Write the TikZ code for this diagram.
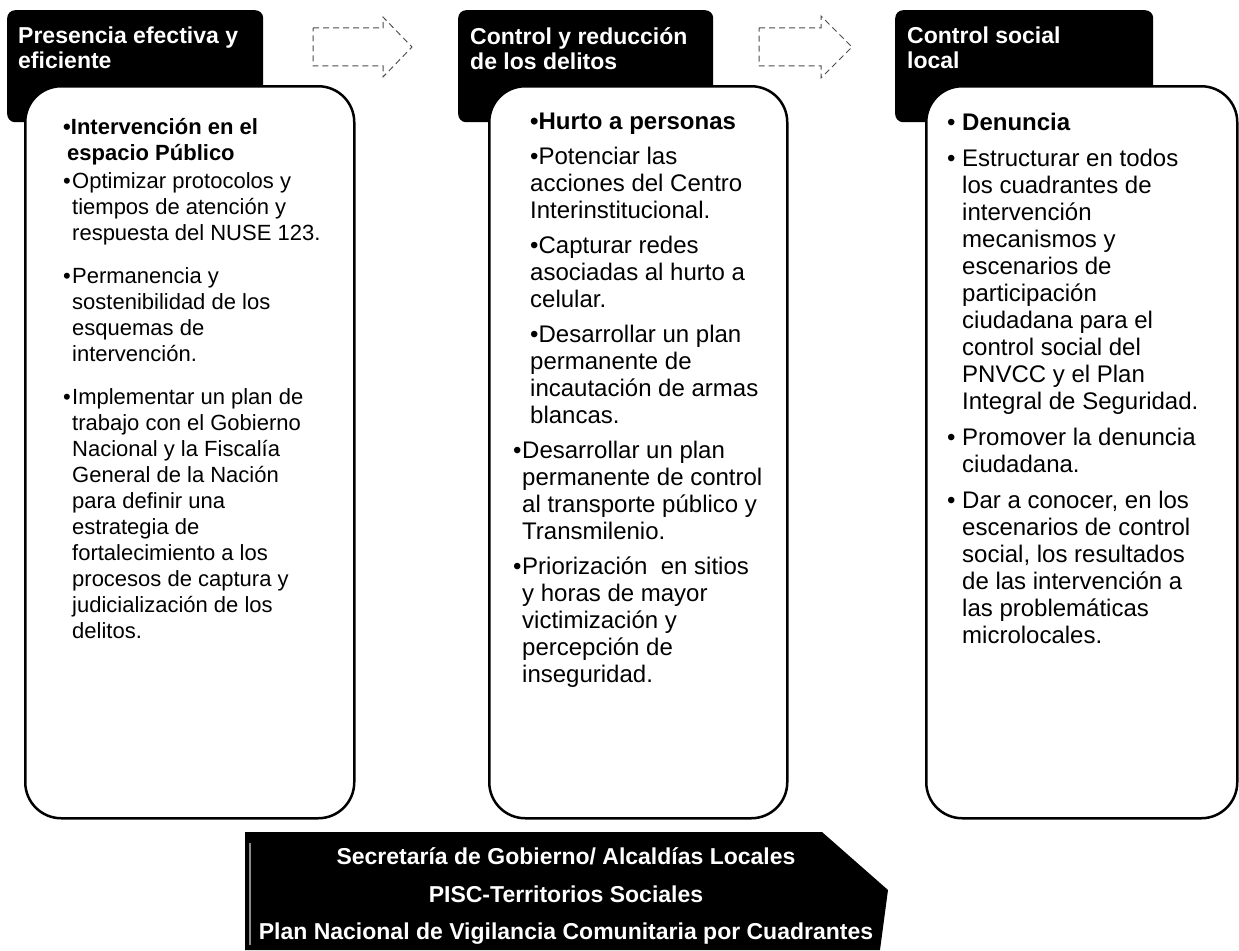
\documentclass[tikz,border=0pt]{standalone}
\usepackage{fontspec}
\setmainfont{Liberation Sans}
\usetikzlibrary{positioning}

% bullets and hanging lines
\newcommand{\bul}{\makebox[9pt][l]{•}}
\newcommand{\hang}{\hspace*{9pt}}
\newcommand{\bulw}{\makebox[15pt][l]{•}}
\newcommand{\hangw}{\hspace*{15pt}}
\newcommand{\ind}{\hspace*{17pt}}

\tikzset{
  header/.style={fill=black, rounded corners=8pt, minimum height=112pt, anchor=north west, inner sep=0pt},
  headtext/.style={text=white, font=\fontsize{23}{25}\selectfont\bfseries, align=left, anchor=north west, inner sep=0pt},
  panel/.style={draw=black, fill=white, line width=2.5pt, rounded corners=36pt, minimum height=732pt, anchor=north west, inner sep=0pt},
  bodytext/.style={font=\fontsize{22}{26}\selectfont, align=left, anchor=north west, inner sep=0pt},
  bodytextlarge/.style={font=\fontsize{24}{27}\selectfont, align=left, anchor=north west, inner sep=0pt},
  bannertext/.style={text=white, font=\fontsize{23}{37.5}\selectfont\bfseries, align=center},
  flow/.style={draw=black!70, line width=1pt, dash pattern=on 6pt off 4pt},
}

\begin{document}
\begin{tikzpicture}[x=1pt, y=-1pt]
    \useasboundingbox (0,0) rectangle (1239,950);
    % headers
    \node[header, minimum width=256pt] (h1) at (7,10) {};
    \node[header, minimum width=255pt] (h2) at (458,10) {};
    \node[header, minimum width=258pt] (h3) at (895,10) {};
    \node[headtext] (t1) at (18,27) {Presencia efectiva y\\eficiente};
    \node[headtext] (t2) at (470,27) {Control y reducción\\de los delitos};
    \node[headtext] (t3) at (907,27) {Control social\\local};
    % arrows between headers
    \draw[flow] (313,28) -- (383,28) -- (383,17) -- (412,47) -- (383,77) -- (383,66) -- (313,66) -- cycle;
    \draw[flow] (759,28) -- (821,28) -- (821,16) -- (852,47) -- (821,78) -- (821,66) -- (759,66) -- cycle;
    % panels
    \node[panel, minimum width=329pt] (p1) at (24,85) {};
    \node[panel, minimum width=298pt] (p2) at (488,85) {};
    \node[panel, minimum width=311pt] (p3) at (925,85) {};
    % first column
    \node[bodytext] (b1) at (63,118) {%
      \textbf{•Intervención en el}\\
      \textbf{\hspace*{4pt}espacio Público}\\[2pt]
      \bul Optimizar protocolos y\\
      \hang tiempos de atención y\\
      \hang respuesta del NUSE 123.\\[17pt]
      \bul Permanencia y\\
      \hang sostenibilidad de los\\
      \hang esquemas de\\
      \hang intervención.\\[17pt]
      \bul Implementar un plan de\\
      \hang trabajo con el Gobierno\\
      \hang Nacional y la Fiscalía\\
      \hang General de la Nación\\
      \hang para definir una\\
      \hang estrategia de\\
      \hang fortalecimiento a los\\
      \hang procesos de captura y\\
      \hang judicialización de los\\
      \hang delitos.};
    % second column
    \node[bodytextlarge] (b2) at (513,113) {%
      \ind\textbf{•Hurto a personas}\\[8pt]
      \ind•Potenciar las\\
      \ind acciones del Centro\\
      \ind Interinstitucional.\\[8pt]
      \ind•Capturar redes\\
      \ind asociadas al hurto a\\
      \ind celular.\\[8pt]
      \ind•Desarrollar un plan\\
      \ind permanente de\\
      \ind incautación de armas\\
      \ind blancas.\\[8pt]
      \bul Desarrollar un plan\\
      \hang permanente de control\\
      \hang al transporte público y\\
      \hang Transmilenio.\\[8pt]
      \bul Priorización\ \ en sitios\\
      \hang y horas de mayor\\
      \hang victimización y\\
      \hang percepción de\\
      \hang inseguridad.};
    % third column
    \node[bodytextlarge] (b3) at (947,113) {%
      \bulw\textbf{Denuncia}\\[9pt]
      \bulw Estructurar en todos\\
      \hangw los cuadrantes de\\
      \hangw intervención\\
      \hangw mecanismos y\\
      \hangw escenarios de\\
      \hangw participación\\
      \hangw ciudadana para el\\
      \hangw control social del\\
      \hangw PNVCC y el Plan\\
      \hangw Integral de Seguridad.\\[9pt]
      \bulw Promover la denuncia\\
      \hangw ciudadana.\\[9pt]
      \bulw Dar a conocer, en los\\
      \hangw escenarios de control\\
      \hangw social, los resultados\\
      \hangw de las intervención a\\
      \hangw las problemáticas\\
      \hangw microlocales.};
    % bottom banner
    \fill (245,832) -- (822,832) -- (888,890) -- (880,950) -- (245,950) -- cycle;
    \draw[black!45, line width=1.5pt] (250,843) -- (250,945);
    \node[bannertext] (bn) at (566,896) {Secretaría de Gobierno/ Alcaldías Locales\\PISC-Territorios Sociales\\Plan Nacional de Vigilancia Comunitaria por Cuadrantes};
\end{tikzpicture}
\end{document}
